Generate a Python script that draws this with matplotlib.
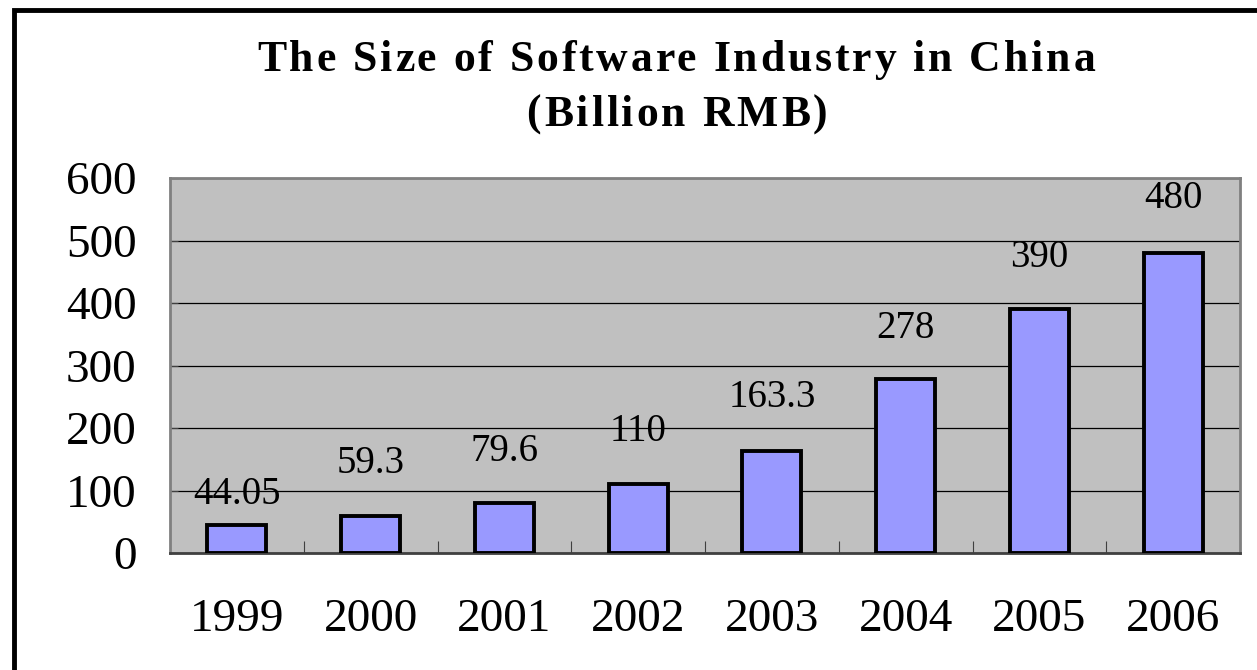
import matplotlib
matplotlib.use("Agg")
import matplotlib.pyplot as plt
from matplotlib.patches import Rectangle
from matplotlib.textpath import TextToPath
from matplotlib.font_manager import FontProperties

years = ["1999", "2000", "2001", "2002", "2003", "2004", "2005", "2006"]
values = [44.05, 59.3, 79.6, 110, 163.3, 278, 390, 480]
value_labels = ["44.05", "59.3", "79.6", "110", "163.3", "278", "390", "480"]
yticks = [0, 100, 200, 300, 400, 500, 600]
title_lines = ["The Size of Software Industry in China", "(Billion RMB)"]

plt.rcParams['font.family'] = ['Liberation Serif', 'DejaVu Serif']

DPI = 100
fig = plt.figure(figsize=(12.57, 6.70), dpi=DPI)
W, H = 1257, 670
ax = fig.add_axes([170 / W, 1 - 553 / H, (1240 - 170) / W, (553 - 178) / H])

# figure border
fig.patches.append(Rectangle((14 / W, -0.1), 1.2, 1 - 10 / H + 0.1, transform=fig.transFigure,
                             fill=False, edgecolor='black', linewidth=3.5, zorder=10))

ax.set_facecolor('#C0C0C0')
x = list(range(len(years)))
ax.bar(x, values, width=0.44, color='#9999FF', edgecolor='black', linewidth=2.8, zorder=3)
ax.set_xlim(-0.5, len(years) - 0.5)
ax.set_ylim(0, 600)
ax.set_yticks(yticks)
ax.set_yticklabels([str(t) for t in yticks], fontsize=34)
ax.yaxis.grid(True, color='black', linewidth=0.9, zorder=1)
ax.set_axisbelow(True)
ax.tick_params(axis='y', direction='in', length=6, color='#404040', pad=24)
ax.set_xticks([i + 0.5 for i in x[:-1]] + [len(years) - 0.5], minor=False)
ax.set_xticklabels([])
ax.set_xticks(x, minor=True)
ax.set_xticklabels(years, minor=True, fontsize=34)
ax.tick_params(axis='x', which='major', direction='in', length=9, color='#404040')
ax.tick_params(axis='x', which='minor', length=0, pad=33)
for s in ax.spines.values():
    s.set_color('#808080')
    s.set_linewidth(2)
ax.spines['bottom'].set_color('#404040')

label_offsets_px = [31, 52, 52, 53, 53, 51, 52, 54]
for xi, v, lab, off in zip(x, values, value_labels, label_offsets_px):
    ax.annotate(lab, (xi, v), xytext=(0, off * 72 / DPI), textcoords='offset points',
                ha='center', va='center', fontsize=28, zorder=4)

# title with letter spacing
ttp = TextToPath()
def spaced_text(s, cx_px, base_px, size, track_px, weight='bold'):
    prop = FontProperties(family='Liberation Serif', size=size, weight=weight)
    def wpx(t):
        if not t:
            return 0.0
        w, h, d = ttp.get_text_width_height_descent(t, prop, ismath=False)
        return w * DPI / 72
    n = len(s)
    total = wpx(s) + track_px * (n - 1)
    x0 = cx_px - total / 2
    for i, ch in enumerate(s):
        if ch == ' ':
            continue
        xi = x0 + wpx(s[:i + 1]) - wpx(ch) + track_px * i
        fig.text(xi / W, 1 - base_px / H, ch, ha='left', va='baseline',
                 fontproperties=prop)

spaced_text(title_lines[0], 676, 71, 31.5, 2.9)
spaced_text(title_lines[1], 677, 126, 31.5, 2.9)

fig.savefig("out.png", dpi=DPI)
